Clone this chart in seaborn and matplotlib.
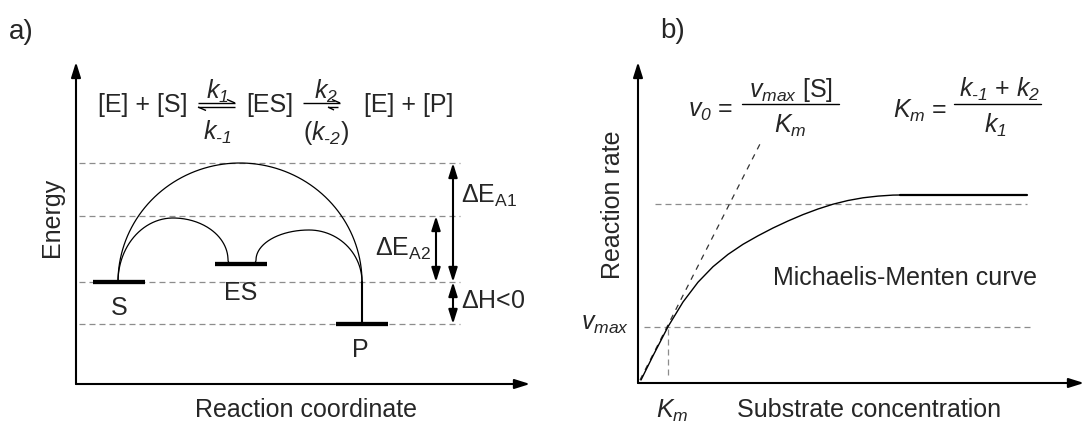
import numpy as np
import pandas as pd
import seaborn as sns
import matplotlib.pyplot as plt

sns.set_theme(style='white')
plt.rcParams['font.family'] = ['Liberation Sans', 'DejaVu Sans']
plt.rcParams['mathtext.fontset'] = 'custom'
plt.rcParams['mathtext.rm'] = 'Liberation Sans:italic'
plt.rcParams['mathtext.it'] = 'Liberation Sans:italic'
plt.rcParams['mathtext.sf'] = 'Liberation Sans'

# ---- panel a: energy diagram (units ~ px from the axis origin) ----
species = ['S', 'ES', 'P']
species_x = [43, 165, 286]
species_E = [102, 120, 60]
ts_uncat = 221        # top of the uncatalysed barrier
ts_bind = 166         # E + S -> ES barrier
ts_cat = 154          # ES -> P barrier
energy_guides = [221, 168, 102, 60]

# ---- panel b: Michaelis-Menten curve ----
mm_s = [3, 15, 30, 45, 60, 75, 90, 105, 120, 135, 150, 165, 180, 195, 210,
        225, 240, 255, 262]
mm_v = [3, 27.2, 56.3, 81.0, 100.8, 116.3, 128.6, 138.7, 147.2, 155.0, 162.0,
        168.4, 174.0, 178.8, 182.5, 185.2, 186.9, 187.9, 188.0]
plateau_end = 389
vmax_guide = 179
half_guide = 56
km = 30
tangent_s = [2, 123]
tangent_v = [3, 241]

W, H = 1085, 424
fig = plt.figure(figsize=(W / 100, H / 100), dpi=100)


def px_axes(x0, y0, x1, y1):
    return fig.add_axes([x0 / W, 1 - y1 / H, (x1 - x0) / W, (y1 - y0) / H])


def axis_arrows(ax):
    ax.axis('off')
    style = '-|>,head_length=0.7,head_width=0.22'
    for end in [(0, 1), (1, 0)]:
        ax.annotate('', xy=end, xytext=(0, 0), xycoords='axes fraction',
                    arrowprops=dict(arrowstyle=style, lw=1.5, color='black',
                                    mutation_scale=13, shrinkA=0, shrinkB=0))


def half_arc(xc, a, y_left, y_right, top, n=80):
    t1 = np.linspace(np.pi, np.pi / 2, n)
    t2 = np.linspace(np.pi / 2, 0, n)[1:]
    x = np.r_[xc + a * np.cos(t1), xc + a * np.cos(t2)]
    y = np.r_[y_left + (top - y_left) * np.sin(t1), y_right + (top - y_right) * np.sin(t2)]
    return x, y


def curve(ax, x, y, lw=0.9):
    sns.lineplot(x=x, y=y, ax=ax, color='black', lw=lw, sort=False, estimator=None)


ax_a = px_axes(76, 62, 530, 384)
ax_a.set_xlim(0, 454)
ax_a.set_ylim(0, 322)
axis_arrows(ax_a)

ax_b = px_axes(638, 62, 1084, 383)
ax_b.set_xlim(0, 446)
ax_b.set_ylim(0, 321)
axis_arrows(ax_b)

grey = '#8c8c8c'
dash = (0, (4.8, 3.2))

# guides
ax_a.hlines(energy_guides, 3, 384, colors=grey, lw=0.9, linestyles=[dash])

# energy levels
for name, x, e in zip(species, species_x, species_E):
    ax_a.hlines(e, x - 26, x + 26, colors='black', lw=3.1)
ax_a.text(species_x[0], species_E[0] - 33, 'S', ha='center', va='baseline', fontsize=18)
ax_a.text(species_x[1], species_E[1] - 36, 'ES', ha='center', va='baseline', fontsize=18)
ax_a.text(species_x[2] - 2, species_E[2] - 33, 'P', ha='center', va='baseline', fontsize=18)

# barriers
r = 4
xs, es, xp = species_x[0] - 1, species_E[1], species_x[2]
x, y = half_arc((xs + xp) / 2, (xp - xs) / 2, species_E[0], species_E[0], ts_uncat)
curve(ax_a, x, y)

x_end = species_x[1] - 13
x, y = half_arc((xs + x_end) / 2, (x_end - xs) / 2, species_E[0], es + r, ts_bind)
t = np.linspace(np.pi, 1.5 * np.pi, 20)
x = np.r_[x, x_end + r + r * np.cos(t)]
y = np.r_[y, es + r + r * np.sin(t)]
curve(ax_a, x, y)

x_start = species_x[1] + 15
x, y = half_arc((x_start + xp) / 2, (xp - x_start) / 2, es + r, species_E[0], ts_cat)
t = np.linspace(1.5 * np.pi, 2 * np.pi, 20)[:-1]
x = np.r_[x_start - r + r * np.cos(t), x]
y = np.r_[es + r + r * np.sin(t), y]
curve(ax_a, x, y)

curve(ax_a, [xp, xp], [species_E[0], species_E[2]], lw=1.5)

# energy differences
dbl = dict(arrowstyle='<|-|>,head_length=0.7,head_width=0.22', lw=1.5, color='black',
           mutation_scale=12, shrinkA=0, shrinkB=0)
ax_a.annotate('', xy=(377, species_E[0]), xytext=(377, ts_uncat), arrowprops=dbl)
ax_a.annotate('', xy=(360, species_E[0]), xytext=(360, energy_guides[1]), arrowprops=dbl)
ax_a.annotate('', xy=(377, species_E[2]), xytext=(377, species_E[0]), arrowprops=dbl)
ax_a.text(385, 181, r'$\mathsf{\Delta E}_{\mathsf{A1}}$', fontsize=18, va='baseline')
ax_a.text(355, 128, r'$\mathsf{\Delta E}_{\mathsf{A2}}$', fontsize=18, va='baseline', ha='right')
ax_a.text(385, 76, r'$\mathsf{\Delta}$H<0', fontsize=18, va='baseline')

# reaction scheme
ax_a.text(112, 272.5, '[E] + [S]', fontsize=18, ha='right', va='baseline')
ax_a.text(170, 272.5, '[ES]', fontsize=18, ha='left', va='baseline')
ax_a.text(288, 272.5, '[E] + [P]', fontsize=18, ha='left', va='baseline')
ax_a.text(141, 285, r'$k_{1}$', fontsize=18, ha='center', va='baseline')
ax_a.text(141, 244, r'$k_{‐1}$', fontsize=18, ha='center', va='baseline')
ax_a.text(250, 285, r'$k_{2}$', fontsize=18, ha='center', va='baseline')
ax_a.text(250, 244, r'($k_{‐2}$)', fontsize=18, ha='center', va='baseline')
hp = dict(color='black', lw=1.0, solid_capstyle='butt')
ax_a.plot([122, 159], [281, 281], **hp)
ax_a.plot([151, 159], [284.5, 281], **hp)
ax_a.plot([122, 159], [277, 277], **hp)
ax_a.plot([122, 130], [277, 273.5], **hp)
ax_a.plot([227, 264], [281, 281], **hp)
ax_a.plot([256, 264], [284.5, 281], **hp)
ax_a.plot([252, 262], [277, 277], **hp)
ax_a.plot([252, 258], [277, 274], **hp)

ax_a.text(-24, 167, 'Energy', fontsize=18, rotation=90, ha='center', va='center')
ax_a.text(230, -33, 'Reaction coordinate', fontsize=18, ha='center', va='baseline')

# ---- panel b ----
ax_b.hlines([vmax_guide, half_guide], [17, 6], [389, 392], colors=grey, lw=0.9, linestyles=[dash])
ax_b.vlines(km, 8, half_guide, colors=grey, lw=0.9, linestyles=[dash])
ax_b.plot(tangent_s, tangent_v, color='#333333', lw=0.9, ls=(0, (4.5, 4.5)))

mm = pd.DataFrame({'s': mm_s, 'v': mm_v})
sns.lineplot(data=mm, x='s', y='v', ax=ax_b, color='black', lw=1.0, estimator=None)
curve(ax_b, [mm_s[-1], plateau_end], [mm_v[-1], mm_v[-1]], lw=1.6)

ax_b.text(95, 266, r'$v_{0}$ =', fontsize=18, ha='right', va='baseline')
ax_b.plot([104, 201], [279, 279], color='black', lw=1.0)
ax_b.text(152.5, 286, r'$v_{max}$ [S]', fontsize=18, ha='center', va='baseline')
ax_b.text(152.5, 250, r'$K_{m}$', fontsize=18, ha='center', va='baseline')
ax_b.text(255, 265, r'$K_{m}$ =', fontsize=18, ha='left', va='baseline')
ax_b.plot([316, 403], [279, 279], color='black', lw=1.0)
ax_b.text(361.5, 286, r'$k_{‐1}$ + $k_{2}$', fontsize=18, ha='center', va='baseline')
ax_b.text(357.5, 250, r'$k_{1}$', fontsize=18, ha='center', va='baseline')

ax_b.text(135, 98, 'Michaelis-Menten curve', fontsize=18, ha='left', va='baseline')
ax_b.text(-9, 53, r'$v_{max}$', fontsize=18, ha='right', va='baseline')
ax_b.text(km + 4, -35, r'$K_{m}$', fontsize=18, ha='center', va='baseline')
ax_b.text(-25, 178, 'Reaction rate', fontsize=18, rotation=90, ha='center', va='center')
ax_b.text(231, -34, 'Substrate concentration', fontsize=18, ha='center', va='baseline')

fig.text(9 / W, 1 - 39 / H, 'a)', fontsize=20, va='baseline')
fig.text(660 / W, 1 - 38 / H, 'b)', fontsize=20, va='baseline')

fig.savefig('out.png', dpi=100)
